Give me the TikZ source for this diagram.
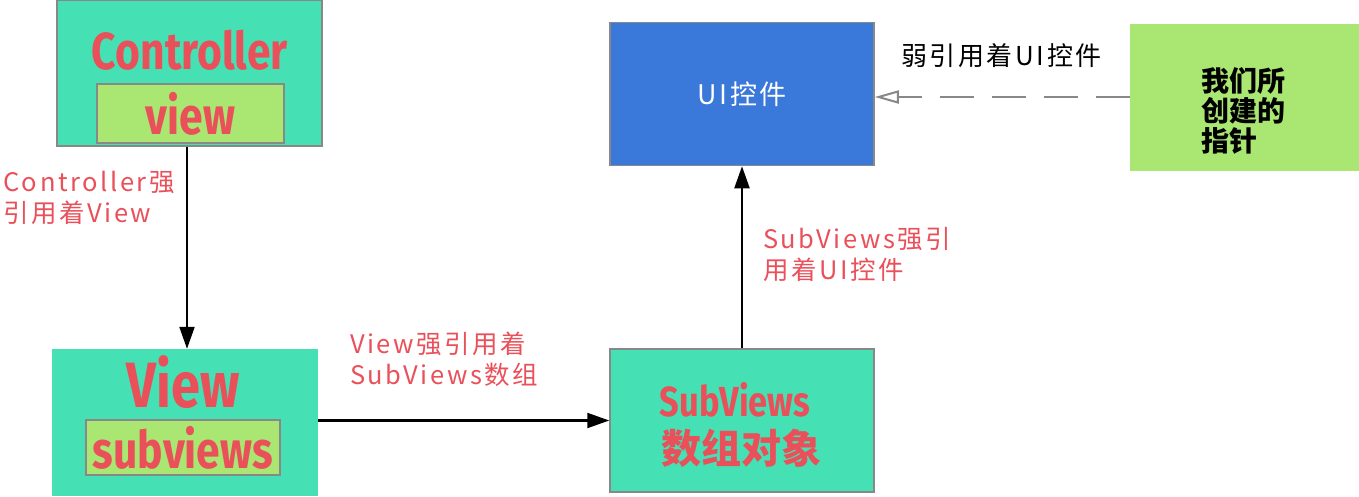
\documentclass[tikz,border=0pt]{standalone}
\usepackage{fontspec}
\usetikzlibrary{arrows.meta}
\setmainfont{Noto Sans CJK SC}
\newfontfamily\headfont[FakeStretch=0.82]{Fira Sans}
\newfontfamily\notefont[LetterSpace=10]{Noto Sans CJK SC}
\definecolor{mint}{HTML}{46E0B5}
\definecolor{lime}{HTML}{A9E672}
\definecolor{uiblue}{HTML}{3A78D9}
\definecolor{edgegray}{HTML}{888888}
\definecolor{titlered}{HTML}{E9505A}

\begin{document}
\begin{tikzpicture}[x=1pt,y=-1pt,
  mainbox/.style={fill=mint, inner sep=0pt},
  propbox/.style={draw=edgegray, fill=lime, line width=1.5pt, inner sep=0pt},
  headtext/.style={text=titlered, font=\headfont\bfseries\fontsize{#1}{#1}\selectfont},
  note/.style={text=titlered, align=left, anchor=west, inner sep=0pt, font=\notefont\fontsize{25.5}{31}\selectfont},
  strong/.style={-{Triangle[length=22pt,width=15pt]}, line width=2.1pt},
  weak/.style={-{Triangle[open,length=24pt,width=13pt]}, draw=edgegray, line width=2pt,
    dash pattern=on 34pt off 18pt}]
\useasboundingbox (0,0) rectangle (1359,496);
% boxes
\node[mainbox, draw=edgegray, line width=1.5pt, minimum width=265pt, minimum height=146pt] (controller) at (189.5,73) {};
\node[propbox, minimum width=187pt, minimum height=59pt, headtext=52] (viewprop) at (190.5,113.5) {view};
\node[headtext=52] (ctrltext) at (190,50) {Controller};
\node[mainbox, minimum width=266pt, minimum height=147pt] (viewbox) at (185,422.5) {};
\node[propbox, minimum width=194pt, minimum height=55pt, headtext=52] (subprop) at (183,447.5) {subviews};
\node[headtext=64] (viewtext) at (183,382) {View};
\node[mainbox, draw=edgegray, line width=1.5pt, minimum width=264pt, minimum height=143pt] (subviews) at (742,420.5) {};
\node[headtext=42] (subtext) at (735,400) {SubViews};
\node[text=titlered, font=\bfseries\fontsize{40}{40}\selectfont] (arraytext) at (741,448) {数组对象};
\node[draw=edgegray, fill=uiblue, line width=1.5pt, minimum width=264pt, minimum height=143pt,
  text=white, font=\notefont\fontsize{27}{27}\selectfont] (uictrl) at (742,94) {UI控件};
\node[fill=lime, minimum width=229pt, minimum height=147pt] (pointer) at (1244.5,97) {};
\node[anchor=west, align=left, font=\bfseries\fontsize{28}{30}\selectfont] (pointertext) at (1198,111) {我们所\\创建的\\指针};
% connectors
\draw[strong] ([xshift=-2.5pt]controller.south) -- ([xshift=-2.5pt]controller.south |- viewbox.north);
\draw[strong] (viewbox.east |- subviews.west) -- (subviews.west);
\draw[strong] (subviews.north) -- (uictrl.south);
\draw[weak] (pointer.west) -- (pointer.west -| uictrl.east);
% labels
\node[note] (ctrllabel) at (3,198) {Controller强\\引用着View};
\node[note] (viewlabel) at (350,359) {View强引用着\\SubViews数组};
\node[note] (sublabel) at (763,254) {SubViews强引\\用着UI控件};
\node[anchor=west, inner sep=0pt, font=\notefont\fontsize{26}{26}\selectfont] (weaklabel) at (901,56) {弱引用着UI控件};
\end{tikzpicture}
\end{document}
